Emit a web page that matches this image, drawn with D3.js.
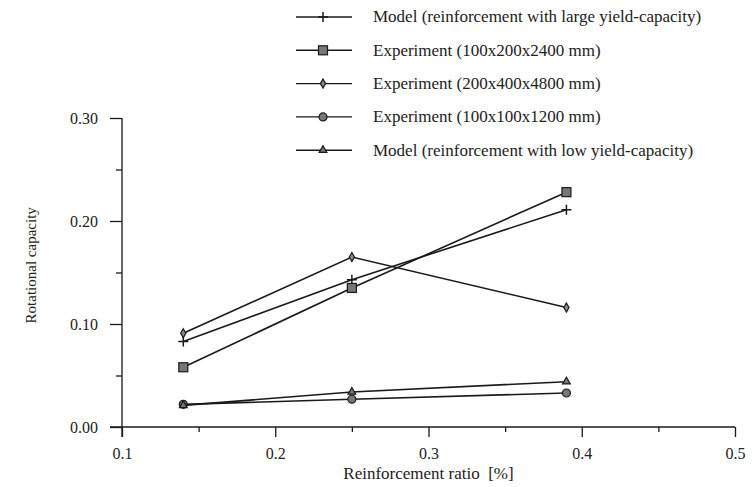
<!DOCTYPE html>
<html>
<head>
<meta charset="utf-8">
<script src="https://cdn.jsdelivr.net/npm/d3@7"></script>
<style>
  body { margin: 0; background: #fff; }
  svg text { font-family: "Liberation Serif", "DejaVu Serif", serif; fill: #222; white-space: pre; }
</style>
</head>
<body>
<div id="chart"></div>
<script>
// reinforcement ratio [%]
const ratios = [0.14, 0.25, 0.39];

const modelLarge = [0.083, 0.143, 0.211];
const exp100x200 = [0.058, 0.135, 0.228];
const exp200x400 = [0.091, 0.165, 0.116];
const exp100x100 = [0.022, 0.027, 0.033];
const modelLow = [0.021, 0.034, 0.044];

const seriesNames = [
    "Model (reinforcement with large yield-capacity)",
    "Experiment (100x200x2400 mm)",
    "Experiment (200x400x4800 mm)",
    "Experiment (100x100x1200 mm)",
    "Model (reinforcement with low yield-capacity)"
];
const seriesSymbols = ["plus", "square", "diamond", "circle", "triangle"];

const xTicks = [0.1, 0.2, 0.3, 0.4, 0.5];
const xMinorTicks = [0.15, 0.25, 0.35, 0.45];
const yTicks = [0.0, 0.1, 0.2, 0.3];
const yMinorTicks = [0.05, 0.15, 0.25];

const width = 753;
const height = 487;

const svg = d3.select("#chart")
    .append("svg")
    .attr("width", width)
    .attr("height", height);

const x = d3.scaleLinear().domain([0.1, 0.5]).range([122, 735]);
const y = d3.scaleLinear().domain([0, 0.3]).range([427, 118]);

const ink = "#1a1a1a";

// x axis
const xAxis = svg.append("g").attr("transform", `translate(0,${y(0)})`);
xAxis.append("line")
    .attr("x1", x(0.1) - 12).attr("x2", x(0.5))
    .attr("stroke", ink).attr("stroke-width", 1.3);
xAxis.append("g")
    .call(d3.axisBottom(x).tickValues(xMinorTicks).tickSize(5).tickSizeOuter(0).tickFormat(""))
    .call(g => g.select(".domain").remove());
xAxis.append("g")
    .call(d3.axisBottom(x).tickValues(xTicks).tickSize(10).tickSizeOuter(0).tickPadding(11).tickFormat(d3.format(".1f")))
    .call(g => g.select(".domain").remove());
xAxis.selectAll(".tick line").attr("stroke", ink).attr("stroke-width", 1.3);
xAxis.selectAll(".tick text").style("font-size", "16px").attr("fill", ink);

// y axis
const yAxis = svg.append("g").attr("transform", `translate(${x(0.1)},0)`);
yAxis.append("line")
    .attr("y1", y(0.3)).attr("y2", y(0) + 10)
    .attr("stroke", ink).attr("stroke-width", 1.3);
yAxis.append("g")
    .call(d3.axisLeft(y).tickValues(yMinorTicks).tickSize(6).tickSizeOuter(0).tickFormat(""))
    .call(g => g.select(".domain").remove());
yAxis.append("g")
    .call(d3.axisLeft(y).tickValues(yTicks).tickSize(12).tickSizeOuter(0).tickPadding(12).tickFormat(d3.format(".2f")))
    .call(g => g.select(".domain").remove());
yAxis.selectAll(".tick line").attr("stroke", ink).attr("stroke-width", 1.3);
yAxis.selectAll(".tick text").style("font-size", "16px").attr("fill", ink);

// axis titles
svg.append("text")
    .attr("x", x(0.3))
    .attr("y", 479)
    .attr("text-anchor", "middle")
    .style("font-size", "17px")
    .text("Reinforcement ratio  [%]");

svg.append("text")
    .attr("transform", `translate(36,${y(0.157)}) rotate(-90)`)
    .attr("text-anchor", "middle")
    .style("font-size", "15px")
    .text("Rotational capacity");

// markers
function drawMarker(g, kind, cx, cy) {
    if (kind === "plus") {
        g.append("path")
            .attr("d", `M${cx - 5},${cy}H${cx + 5}M${cx},${cy - 5}V${cy + 5}`)
            .attr("stroke", ink).attr("stroke-width", 1.5).attr("fill", "none");
    } else if (kind === "square") {
        g.append("rect")
            .attr("x", cx - 4.5).attr("y", cy - 4.5)
            .attr("width", 9).attr("height", 9)
            .attr("fill", "#777").attr("stroke", ink).attr("stroke-width", 1.2);
    } else if (kind === "diamond") {
        g.append("path")
            .attr("d", d3.symbol(d3.symbolDiamond, 24)())
            .attr("transform", `translate(${cx},${cy})`)
            .attr("fill", "#888").attr("stroke", ink).attr("stroke-width", 1.2);
    } else if (kind === "circle") {
        g.append("circle")
            .attr("cx", cx).attr("cy", cy).attr("r", 4)
            .attr("fill", "#777").attr("stroke", ink).attr("stroke-width", 1.2);
    } else if (kind === "triangle") {
        g.append("path")
            .attr("d", d3.symbol(d3.symbolTriangle, 26)())
            .attr("transform", `translate(${cx},${cy})`)
            .attr("fill", "#777").attr("stroke", ink).attr("stroke-width", 1.2);
    }
}

const allSeries = [modelLarge, exp100x200, exp200x400, exp100x100, modelLow];

const line = d3.line()
    .x((d, i) => x(ratios[i]))
    .y(d => y(d));

allSeries.forEach((values, k) => {
    const g = svg.append("g");
    g.append("path")
        .attr("d", line(values))
        .attr("fill", "none")
        .attr("stroke", ink)
        .attr("stroke-width", 1.6);
    values.forEach((v, i) => drawMarker(g, seriesSymbols[k], x(ratios[i]), y(v)));
});

// legend
const legend = svg.append("g").attr("transform", "translate(296,17)");
seriesNames.forEach((name, k) => {
    const row = legend.append("g").attr("transform", `translate(0,${k * 33.3})`);
    row.append("line")
        .attr("x1", 0).attr("x2", 56)
        .attr("stroke", ink).attr("stroke-width", 1.4);
    drawMarker(row, seriesSymbols[k], 27, 0);
    row.append("text")
        .attr("x", 77)
        .attr("dy", "0.32em")
        .style("font-size", "17px")
        .text(name);
});
</script>
</body>
</html>
